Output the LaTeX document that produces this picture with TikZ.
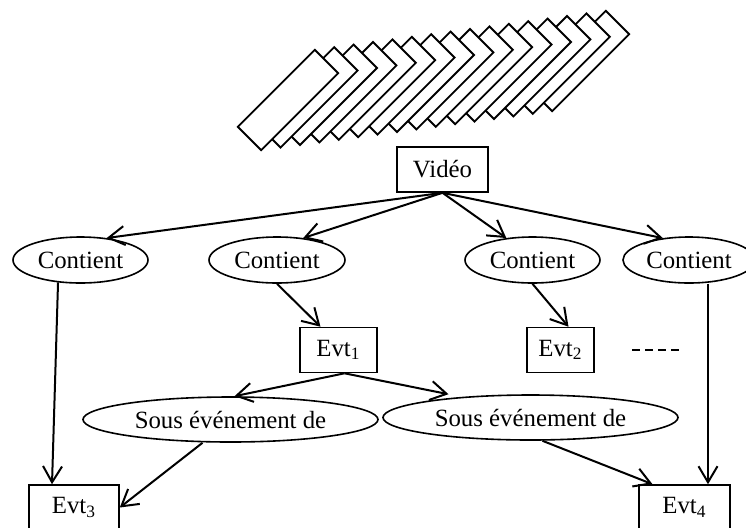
\documentclass[tikz,border=0pt]{standalone}
\usepackage{fontspec}
\setmainfont{Liberation Serif}
\usetikzlibrary{shapes.geometric,arrows.meta}
\begin{document}
\begin{tikzpicture}[x=0.5pt,y=-0.5pt,
        every node/.style={font=\fontsize{12.4}{14}\selectfont,line width=0.8pt,inner sep=0pt},
        boite/.style={draw,rectangle,minimum height=22.5pt},
        bulle/.style={draw,ellipse,minimum height=23pt},
        fleche/.style={line width=1pt,-{Straight Barb[length=8pt,width=9.5pt]}},
        cadre/.style={draw,line width=0.9pt,fill=white}]
        \useasboundingbox (0,0) rectangle (746,527);
        \clip (0,0) rectangle (746,527);
        \foreach \i in {15,14,...,0}{
            \draw[cadre,shift={(288+19.4*\i,100-2.6*\i)}] (-50.2,26.8) -- (-26.8,50.2) -- (50.2,-26.8) -- (26.8,-50.2) -- cycle;
        }
        \node[boite,minimum width=45.5pt] (video) at (442.5,169.5) {Vidéo};
        \node[bulle,minimum width=67.5pt] (c1) at (80.5,260) {Contient};
        \node[bulle,minimum width=68pt] (c2) at (277,260) {Contient};
        \node[bulle,minimum width=67.5pt] (c3) at (532.5,260) {Contient};
        \node[bulle,minimum width=66pt] (c4) at (689,260) {Contient};
        \node[boite,minimum width=38.5pt] (e1) at (338.5,350) {Evt\textsubscript{1}};
        \node[boite,minimum width=33.5pt] (e2) at (560.5,350) {Evt\textsubscript{2}};
        \node[boite,minimum width=45pt] (e3) at (74,507.5) {Evt\textsubscript{3}};
        \node[boite,minimum width=45.5pt] (e4) at (684.5,507.5) {Evt\textsubscript{4}};
        \node[bulle,minimum width=147.5pt,minimum height=22.5pt] (s1) at (230.5,419.5) {Sous événement de};
        \node[bulle,minimum width=147.5pt,minimum height=22.5pt] (s2) at (530.5,417.5) {Sous événement de};
        \draw[line width=0.75pt,dash pattern=on 4pt off 2.5pt] (632,350) -- (679,350);
        \draw[fleche] (video.south) -- (c1.40);
        \draw[fleche] (video.south) -- (c2.40);
        \draw[fleche] (video.south) -- (c3.140);
        \draw[fleche] (video.south) -- (c4.140);
        \draw[fleche] (c1.225) -- ([xshift=-11pt]e3.north);
        \draw[fleche] (c2.south) -- ([xshift=-9pt]e1.north);
        \draw[fleche] (c3.south) -- ([xshift=4pt]e2.north);
        \draw[fleche] ([xshift=9.5pt]c4.south) -- ([xshift=11.75pt]e4.north);
        \draw[fleche] ([xshift=3pt]e1.south) -- ([xshift=2pt]s1.north);
        \draw[fleche] ([xshift=3pt]e1.south) -- ([xshift=-41pt]s2.north);
        \draw[fleche] ([xshift=-14pt]s1.south) -- (e3.east);
        \draw[fleche] ([xshift=6pt]s2.south) -- ([xshift=-16pt]e4.north);
    \end{tikzpicture}
\end{document}
